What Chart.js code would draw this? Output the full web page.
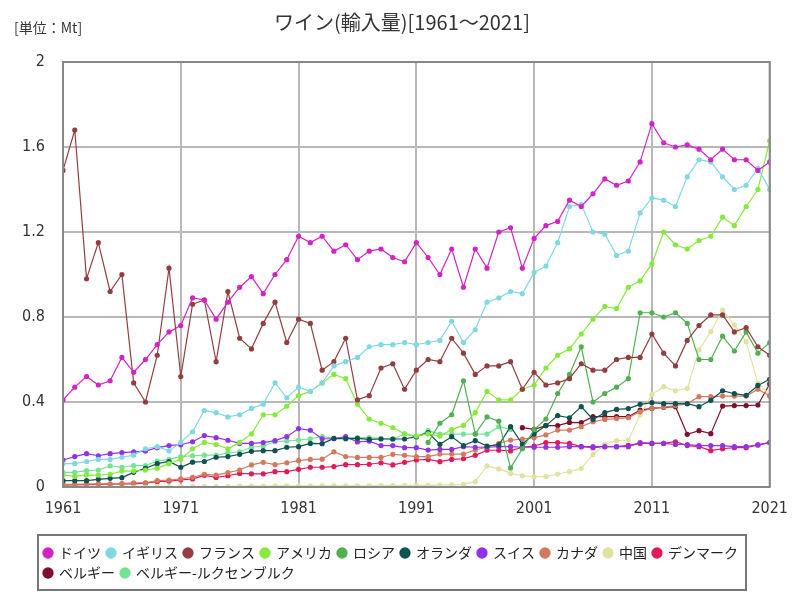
<!DOCTYPE html>
<html lang="ja">
<head>
<meta charset="utf-8">
<title>ワイン(輸入量)</title>
<script src="https://cdn.jsdelivr.net/npm/chart.js@4.4.1/dist/chart.umd.min.js"></script>
<style>
  html, body { margin: 0; padding: 0; background: #fff; }
</style>
</head>
<body>
<canvas id="wineChart" width="800" height="600"></canvas>
<script>
const chartTitle = 'ワイン(輸入量)[1961～2021]';
const unitLabel = '[単位：Mt]';

const firstYear = 1961;
const lastYear = 2021;
const xTicks = [1961, 1971, 1981, 1991, 2001, 2011, 2021];
const yTicks = [0, 0.4, 0.8, 1.2, 1.6, 2];
const yTickLabels = ['0', '0.4', '0.8', '1.2', '1.6', '2'];

// values per year, starting at the year given in *From
const germany = [0.41, 0.47, 0.52, 0.48, 0.50, 0.61, 0.54, 0.60, 0.67, 0.73,
  0.76, 0.89, 0.88, 0.79, 0.87, 0.94, 0.99, 0.91, 1.00, 1.07,
  1.18, 1.15, 1.18, 1.11, 1.14, 1.07, 1.11, 1.12, 1.08, 1.06,
  1.15, 1.08, 1.00, 1.12, 0.94, 1.12, 1.03, 1.20, 1.22, 1.03,
  1.17, 1.23, 1.25, 1.35, 1.32, 1.38, 1.45, 1.42, 1.44, 1.53,
  1.71, 1.62, 1.60, 1.61, 1.59, 1.54, 1.59, 1.54, 1.54, 1.49, 1.53];
const germanyFrom = 1961;

const uk = [0.11, 0.11, 0.12, 0.13, 0.13, 0.14, 0.15, 0.18, 0.19, 0.17,
  0.21, 0.26, 0.36, 0.35, 0.33, 0.34, 0.37, 0.39, 0.49, 0.42,
  0.47, 0.45, 0.49, 0.57, 0.59, 0.61, 0.66, 0.67, 0.67, 0.68,
  0.67, 0.68, 0.69, 0.78, 0.68, 0.74, 0.87, 0.89, 0.92, 0.91,
  1.01, 1.04, 1.15, 1.32, 1.33, 1.20, 1.19, 1.09, 1.11, 1.29,
  1.36, 1.35, 1.32, 1.46, 1.54, 1.53, 1.46, 1.40, 1.42, 1.50, 1.40];
const ukFrom = 1961;

const france = [1.49, 1.68, 0.98, 1.15, 0.92, 1.00, 0.49, 0.40, 0.62, 1.03,
  0.52, 0.86, 0.88, 0.59, 0.92, 0.70, 0.65, 0.77, 0.87, 0.68,
  0.79, 0.77, 0.55, 0.59, 0.70, 0.41, 0.43, 0.56, 0.58, 0.46,
  0.55, 0.60, 0.59, 0.70, 0.63, 0.53, 0.57, 0.57, 0.59, 0.46,
  0.54, 0.48, 0.49, 0.51, 0.58, 0.55, 0.55, 0.60, 0.61, 0.61,
  0.72, 0.63, 0.57, 0.69, 0.76, 0.81, 0.81, 0.73, 0.75, 0.66, 0.62];
const franceFrom = 1961;

const usa = [0.056, 0.05, 0.056, 0.056, 0.06, 0.075, 0.075, 0.08, 0.088, 0.11,
  0.13, 0.18, 0.21, 0.20, 0.18, 0.21, 0.25, 0.34, 0.34, 0.38,
  0.43, 0.45, 0.49, 0.53, 0.51, 0.39, 0.32, 0.30, 0.28, 0.25,
  0.24, 0.25, 0.24, 0.27, 0.29, 0.35, 0.45, 0.41, 0.41, 0.46,
  0.48, 0.56, 0.62, 0.65, 0.72, 0.79, 0.85, 0.84, 0.94, 0.97,
  1.05, 1.20, 1.14, 1.12, 1.16, 1.18, 1.27, 1.23, 1.32, 1.40, 1.63];
const usaFrom = 1961;

const russia = [0.21, 0.30, 0.34, 0.50, 0.25, 0.33, 0.31, 0.09, 0.18,
  0.27, 0.32, 0.44, 0.53, 0.66, 0.40, 0.44, 0.47, 0.51, 0.82,
  0.82, 0.80, 0.82, 0.77, 0.60, 0.60, 0.71, 0.64, 0.73, 0.63, 0.68];
const russiaFrom = 1992;

const netherlands = [0.03, 0.03, 0.03, 0.036, 0.041, 0.044, 0.069, 0.088, 0.11, 0.12,
  0.093, 0.117, 0.12, 0.14, 0.143, 0.154, 0.168, 0.171, 0.171, 0.187,
  0.19, 0.205, 0.204, 0.229, 0.227, 0.229, 0.224, 0.226, 0.226, 0.226,
  0.237, 0.256, 0.201, 0.237, 0.195, 0.218, 0.193, 0.198, 0.284, 0.202,
  0.249, 0.289, 0.336, 0.326, 0.378, 0.318, 0.35, 0.365, 0.369, 0.389,
  0.397, 0.392, 0.392, 0.392, 0.378, 0.408, 0.453, 0.439, 0.431, 0.478, 0.507];
const netherlandsFrom = 1961;

const swiss = [0.127, 0.143, 0.157, 0.147, 0.157, 0.162, 0.165, 0.169, 0.185, 0.195,
  0.199, 0.213, 0.242, 0.232, 0.22, 0.205, 0.205, 0.209, 0.218, 0.237,
  0.275, 0.267, 0.227, 0.227, 0.237, 0.212, 0.216, 0.195, 0.195, 0.185,
  0.185, 0.174, 0.177, 0.177, 0.19, 0.187, 0.187, 0.19, 0.19, 0.187,
  0.187, 0.187, 0.187, 0.19, 0.19, 0.19, 0.19, 0.19, 0.19, 0.209,
  0.205, 0.205, 0.2, 0.2, 0.195, 0.195, 0.195, 0.19, 0.19, 0.198, 0.209];
const swissFrom = 1961;

const canada = [0.013, 0.013, 0.014, 0.015, 0.015, 0.016, 0.02, 0.02, 0.03, 0.033,
  0.038, 0.046, 0.06, 0.056, 0.068, 0.08, 0.104, 0.116, 0.105, 0.114,
  0.124, 0.13, 0.131, 0.166, 0.143, 0.139, 0.139, 0.139, 0.154, 0.149,
  0.143, 0.143, 0.155, 0.155, 0.155, 0.174, 0.187, 0.205, 0.221, 0.226,
  0.232, 0.245, 0.268, 0.268, 0.284, 0.307, 0.318, 0.322, 0.326, 0.354,
  0.37, 0.376, 0.383, 0.392, 0.425, 0.425, 0.428, 0.428, 0.428, 0.46, 0.428];
const canadaFrom = 1961;

const china = [0.002, 0.002, 0.002, 0.002, 0.002, 0.002, 0.002, 0.002, 0.002, 0.002,
  0.002, 0.002, 0.002, 0.002, 0.002, 0.004, 0.004, 0.004, 0.005, 0.005,
  0.005, 0.005, 0.005, 0.006, 0.006, 0.006, 0.006, 0.007, 0.007, 0.007,
  0.008, 0.008, 0.009, 0.01, 0.012, 0.025, 0.099, 0.085, 0.064, 0.053,
  0.049, 0.049, 0.061, 0.072, 0.087, 0.152, 0.201, 0.218, 0.221, 0.339,
  0.436, 0.472, 0.453, 0.464, 0.645, 0.731, 0.833, 0.762, 0.684, 0.488, 0.433];
const chinaFrom = 1961;

const denmark = [0.009, 0.01, 0.011, 0.012, 0.013, 0.015, 0.015, 0.018, 0.025, 0.028,
  0.033, 0.038, 0.055, 0.045, 0.053, 0.064, 0.062, 0.062, 0.072, 0.072,
  0.083, 0.093, 0.093, 0.096, 0.105, 0.105, 0.107, 0.114, 0.104, 0.116,
  0.127, 0.13, 0.119, 0.13, 0.133, 0.149, 0.173, 0.173, 0.17, 0.187,
  0.193, 0.209, 0.209, 0.205, 0.19, 0.185, 0.19, 0.19, 0.196, 0.205,
  0.205, 0.205, 0.213, 0.195, 0.19, 0.171, 0.18, 0.185, 0.185, 0.198, 0.209];
const denmarkFrom = 1961;

const belgium = [0.279, 0.271, 0.289, 0.289, 0.304, 0.303,
  0.331, 0.331, 0.331, 0.331, 0.362, 0.37, 0.375, 0.378, 0.248, 0.265,
  0.251, 0.381, 0.383, 0.383, 0.386, 0.485];
const belgiumFrom = 2000;

const bleu = [0.069, 0.069, 0.077, 0.08, 0.099, 0.093, 0.101, 0.101, 0.122, 0.13,
  0.143, 0.147, 0.15, 0.15, 0.16, 0.166, 0.187, 0.193, 0.213, 0.217,
  0.221, 0.227, 0.237, 0.229, 0.233, 0.233, 0.233, 0.229, 0.225, 0.25,
  0.235, 0.265, 0.249, 0.249, 0.249, 0.249, 0.249, 0.284, 0.271];
const bleuFrom = 1961;

const seriesList = [
  { label: 'ドイツ', color: '#d224c4', values: germany, from: germanyFrom },
  { label: 'イギリス', color: '#80d8e2', values: uk, from: ukFrom },
  { label: 'フランス', color: '#923e3e', values: france, from: franceFrom },
  { label: 'アメリカ', color: '#86ea3c', values: usa, from: usaFrom },
  { label: 'ロシア', color: '#52b052', values: russia, from: russiaFrom },
  { label: 'オランダ', color: '#0e5252', values: netherlands, from: netherlandsFrom },
  { label: 'スイス', color: '#9232e6', values: swiss, from: swissFrom },
  { label: 'カナダ', color: '#d27a5e', values: canada, from: canadaFrom },
  { label: '中国', color: '#e2e2a0', values: china, from: chinaFrom },
  { label: 'デンマーク', color: '#e41a58', values: denmark, from: denmarkFrom },
  { label: 'ベルギー', color: '#800e2c', values: belgium, from: belgiumFrom },
  { label: 'ベルギー-ルクセンブルク', color: '#72e494', values: bleu, from: bleuFrom }
];

const jpFont = '"Noto Sans CJK JP", "Noto Sans", sans-serif';
const numFont = '"Liberation Sans Narrow", "DejaVu Sans Condensed", "Liberation Sans", sans-serif';

const datasets = seriesList.map(s => ({
  label: s.label,
  data: s.values.map((v, i) => ({ x: s.from + i, y: v })),
  borderColor: s.color,
  backgroundColor: s.color,
  pointBackgroundColor: s.color,
  pointBorderWidth: 0,
  pointRadius: 2.6,
  borderWidth: 1.2,
  tension: 0
}));

const decoPlugin = {
  id: 'deco',
  afterLayout(chart) {
    // push the legend right, under the plot like the original
    chart.legend.left += 38;
    chart.legend.right += 38;
  },
  afterDraw(chart) {
    const ctx = chart.ctx;
    const area = chart.chartArea;
    ctx.save();

    // plot frame
    ctx.strokeStyle = '#888';
    ctx.lineWidth = 2;
    ctx.strokeRect(area.left, area.top, area.right - area.left, area.bottom - area.top);

    // title + unit
    ctx.fillStyle = '#333';
    ctx.textBaseline = 'middle';
    ctx.textAlign = 'center';
    ctx.font = '20px ' + jpFont;
    ctx.fillText(chartTitle, 402, 22);
    ctx.textAlign = 'left';
    ctx.font = '14px ' + jpFont;
    ctx.fillText(unitLabel, 14, 28);

    // legend frame
    const boxes = chart.legend.legendHitBoxes;
    if (boxes && boxes.length) {
      const l = Math.min(...boxes.map(b => b.left)) - 6;
      const r = Math.max(...boxes.map(b => b.left + b.width)) + 8;
      const t = Math.min(...boxes.map(b => b.top)) - 11;
      const btm = Math.max(...boxes.map(b => b.top + b.height)) + 10;
      ctx.strokeStyle = '#777';
      ctx.lineWidth = 2;
      ctx.strokeRect(l, t, r - l, btm - t);
    }
    ctx.restore();
  }
};

new Chart(document.getElementById('wineChart'), {
  type: 'line',
  data: { datasets: datasets },
  options: {
    responsive: false,
    animation: false,
    layout: { padding: { top: 62, right: 29, bottom: 10, left: 0 } },
    scales: {
      x: {
        type: 'linear',
        min: firstYear,
        max: lastYear,
        afterBuildTicks: scale => { scale.ticks = xTicks.map(v => ({ value: v })); },
        afterFit: scale => { scale.height = 53; },
        grid: { color: '#b8b8b8', lineWidth: 2, drawTicks: false },
        border: { display: false },
        ticks: {
          color: '#333',
          padding: 12,
          maxRotation: 0,
          font: { size: 16, family: numFont },
          callback: v => String(v)
        }
      },
      y: {
        min: 0,
        max: 2,
        afterBuildTicks: scale => { scale.ticks = yTicks.map(v => ({ value: v })); },
        afterFit: scale => { scale.width = 63; },
        grid: { color: '#b8b8b8', lineWidth: 2, drawTicks: false },
        border: { display: false },
        ticks: {
          color: '#333',
          padding: 18,
          font: { size: 16, family: numFont },
          callback: (v, i) => yTickLabels[i]
        }
      }
    },
    plugins: {
      title: { display: false },
      tooltip: { enabled: false },
      legend: {
        position: 'bottom',
        align: 'start',
        labels: {
          usePointStyle: true,
          pointStyle: 'circle',
          boxWidth: 8,
          boxHeight: 8,
          padding: 6,
          color: '#222',
          font: { size: 14, family: jpFont }
        }
      }
    }
  },
  plugins: [decoPlugin]
});
</script>
</body>
</html>
